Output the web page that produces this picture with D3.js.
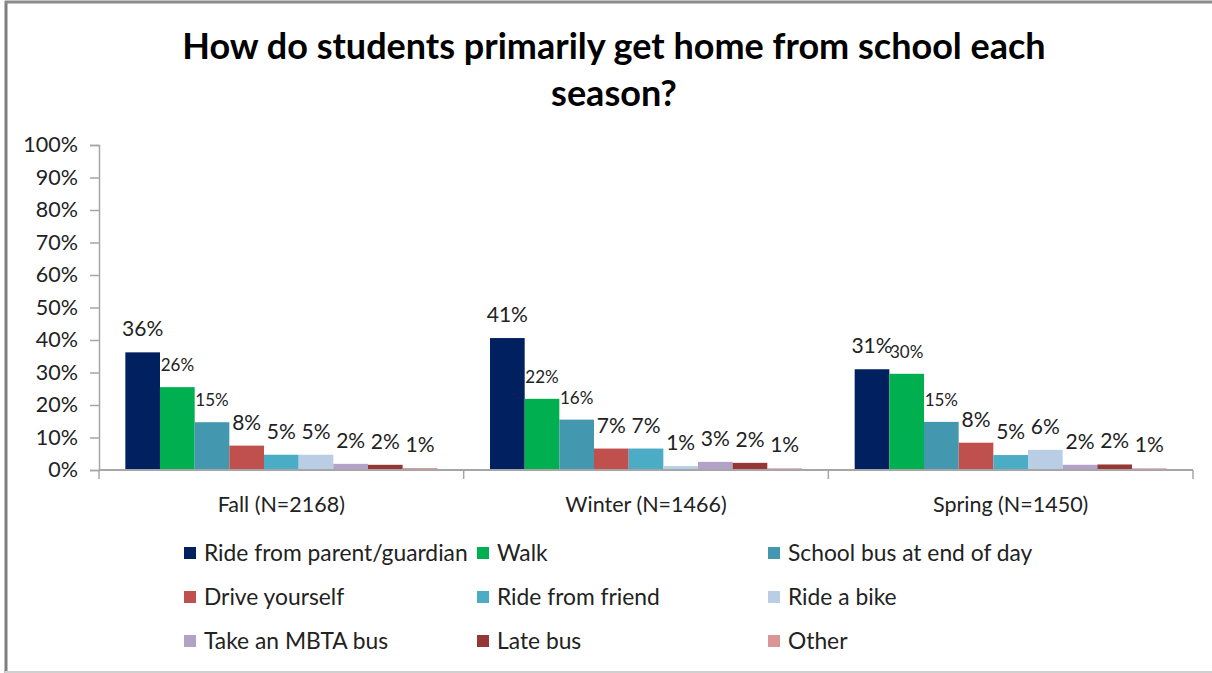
<!DOCTYPE html>
<html>
<head>
<meta charset="utf-8">
<script src="https://cdn.jsdelivr.net/npm/d3@7"></script>
<style>
  html, body { margin: 0; padding: 0; background: #fff; }
  svg text { font-family: Lato, "Open Sans", sans-serif; fill: #222; }
</style>
</head>
<body>
<svg id="chart" width="1212" height="673"></svg>
<script>
const titleLines = ["How do students primarily get home from school each", "season?"];
const seasons = ["Fall (N=2168)", "Winter (N=1466)", "Spring (N=1450)"];
const modes = ["Ride from parent/guardian", "Walk", "School bus at end of day",
               "Drive yourself", "Ride from friend", "Ride a bike",
               "Take an MBTA bus", "Late bus", "Other"];
const fallValues   = [0.362, 0.255, 0.147, 0.075, 0.047, 0.047, 0.019, 0.016, 0.006];
const winterValues = [0.406, 0.219, 0.155, 0.066, 0.066, 0.012, 0.025, 0.022, 0.005];
const springValues = [0.310, 0.296, 0.148, 0.084, 0.046, 0.062, 0.016, 0.017, 0.005];
const yTicks = [0, 0.1, 0.2, 0.3, 0.4, 0.5, 0.6, 0.7, 0.8, 0.9, 1.0];
const colors = ["#002060", "#00B050", "#4397AE", "#C0504D", "#4BACC6",
                "#B9CDE5", "#B3A2C7", "#953735", "#D99694"];

const seriesBySeason = [fallValues, winterValues, springValues];
const svg = d3.select("#chart");

// chart border
svg.append("line").attr("x1", 6).attr("x2", 6).attr("y1", 1).attr("y2", 673)
  .attr("stroke", "#7f7f7f").attr("stroke-width", 3);
svg.append("line").attr("x1", 5).attr("x2", 1212).attr("y1", 2).attr("y2", 2)
  .attr("stroke", "#8a8a8a").attr("stroke-width", 3);
svg.append("line").attr("x1", 5).attr("x2", 1212).attr("y1", 672).attr("y2", 672)
  .attr("stroke", "#d0d0d0").attr("stroke-width", 2);

// title
svg.append("text").attr("x", 614).attr("y", 59).attr("text-anchor", "middle")
  .style("font-size", "36px").style("font-weight", "bold").style("fill", "#000")
  .text(titleLines[0]);
svg.append("text").attr("x", 614).attr("y", 106).attr("text-anchor", "middle")
  .style("font-size", "36px").style("font-weight", "bold").style("fill", "#000")
  .text(titleLines[1]);

const x0 = d3.scaleBand().domain(seasons).range([99, 1193]).paddingInner(0).paddingOuter(0);
const x1 = d3.scaleBand().domain(modes).range([0, x0.bandwidth()]).paddingInner(0).paddingOuter(0.76);
const y = d3.scaleLinear().domain([0, 1]).range([470, 145]);

// y axis
const yAxis = d3.axisLeft(y).tickValues(yTicks).tickFormat(d3.format(".0%")).tickSize(9).tickPadding(12);
const gy = svg.append("g").attr("transform", "translate(99,0)").call(yAxis);
gy.select(".domain").attr("stroke", "#a6a6a6").attr("stroke-width", 1.5);
gy.selectAll(".tick line").attr("stroke", "#a6a6a6").attr("stroke-width", 1.5);
gy.selectAll(".tick text").style("font-size", "21.5px").style("font-family", "Lato, sans-serif").attr("fill", "#222");

// bars
const groups = svg.append("g").selectAll("g").data(seasons).join("g")
  .attr("transform", d => `translate(${x0(d)},0)`);
groups.each(function(season, si) {
  const vals = seriesBySeason[si];
  const g = d3.select(this);
  g.selectAll("rect").data(vals).join("rect")
    .attr("x", (v, i) => x1(modes[i]))
    .attr("width", x1.bandwidth())
    .attr("y", v => y(v))
    .attr("height", v => y(0) - y(v))
    .attr("fill", (v, i) => colors[i]);
  g.selectAll("text.lbl").data(vals).join("text").attr("class", "lbl")
    .attr("x", (v, i) => x1(modes[i]) + x1.bandwidth() / 2)
    .attr("y", v => y(v) - 16)
    .attr("text-anchor", "middle")
    .style("font-size", (v, i) => (i === 1 || i === 2) ? "17px" : "21px")
    .text(v => d3.format(".0%")(v));
});

// x axis
const gx = svg.append("g").attr("transform", "translate(0,470)");
gx.append("line").attr("x1", 99).attr("x2", x0.range()[1]).attr("y1", 0).attr("y2", 0)
  .attr("stroke", "#a6a6a6").attr("stroke-width", 2);
const bounds = seasons.map(s => x0(s)).concat([x0.range()[1]]);
gx.selectAll("line.tk").data(bounds).join("line").attr("class", "tk")
  .attr("x1", d => d).attr("x2", d => d).attr("y1", 0).attr("y2", 9)
  .attr("stroke", "#a6a6a6").attr("stroke-width", 1.5);
gx.selectAll("text").data(seasons).join("text")
  .attr("x", d => x0(d) + x0.bandwidth() / 2).attr("y", 42)
  .attr("text-anchor", "middle").style("font-size", "21.5px").text(d => d);

// legend
const legColX = [184, 477, 768];
const legRowY = [553, 597, 641];
const leg = svg.append("g").selectAll("g").data(modes).join("g")
  .attr("transform", (d, i) => `translate(${legColX[i % 3]},${legRowY[Math.floor(i / 3)]})`);
leg.append("rect").attr("x", 0).attr("y", -6).attr("width", 12).attr("height", 12)
  .attr("fill", (d, i) => colors[i]);
leg.append("text").attr("x", 20).attr("y", 8).style("font-size", "22.8px").text(d => d);
</script>
</body>
</html>
